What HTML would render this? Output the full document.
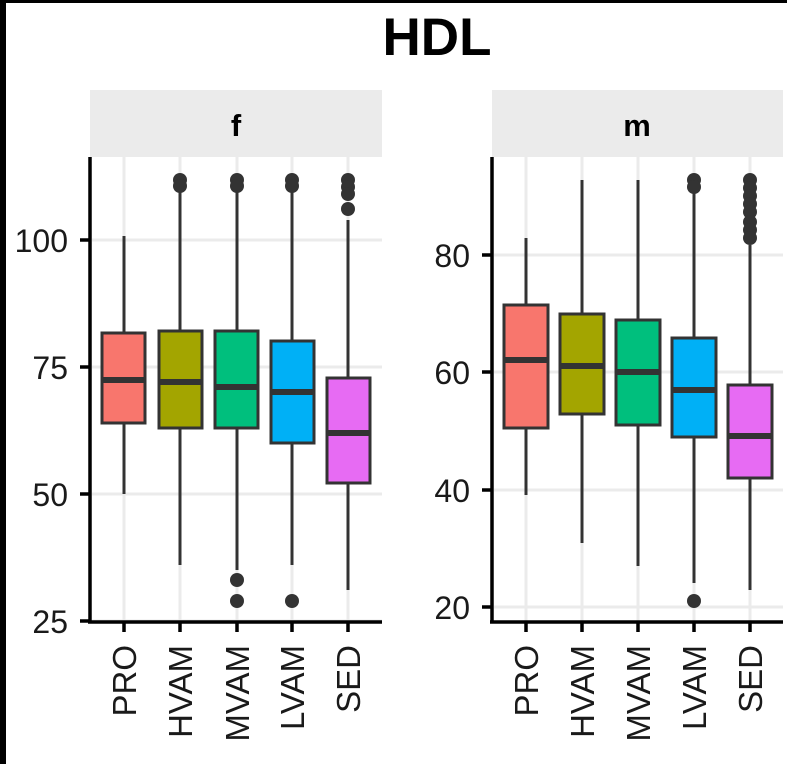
<!DOCTYPE html>
<html><head><meta charset="utf-8"><style>
html,body{margin:0;padding:0;background:#fff;}
svg{display:block;font-family:"Liberation Sans",Arial,sans-serif;}
</style></head><body>
<svg width="787" height="764" viewBox="0 0 787 764" xmlns="http://www.w3.org/2000/svg">
<rect width="787" height="764" fill="#fff"/>
<rect x="0" y="0" width="787" height="3" fill="#000"/>
<rect x="0" y="0" width="6" height="764" fill="#000"/>
<text x="437" y="55" font-size="53" font-weight="bold" text-anchor="middle">HDL</text>

<rect x="90" y="90" width="292" height="67" fill="#ebebeb"/>
<text x="236" y="136" font-size="31" font-weight="bold" text-anchor="middle">f</text>
<rect x="492" y="90" width="291" height="67" fill="#ebebeb"/>
<text x="637" y="136" font-size="31" font-weight="bold" text-anchor="middle">m</text>

<g stroke="#ebebeb" stroke-width="3">
<line x1="92" x2="382" y1="240" y2="240"/><line x1="92" x2="382" y1="367" y2="367"/>
<line x1="92" x2="382" y1="494" y2="494"/><line x1="92" x2="382" y1="621" y2="621"/>
<line x1="124" x2="124" y1="157" y2="622"/><line x1="180" x2="180" y1="157" y2="622"/>
<line x1="237" x2="237" y1="157" y2="622"/><line x1="292" x2="292" y1="157" y2="622"/>
<line x1="348" x2="348" y1="157" y2="622"/>
<line x1="494" x2="783" y1="255" y2="255"/><line x1="494" x2="783" y1="372" y2="372"/>
<line x1="494" x2="783" y1="490" y2="490"/><line x1="494" x2="783" y1="607" y2="607"/>
<line x1="526" x2="526" y1="157" y2="622"/><line x1="582" x2="582" y1="157" y2="622"/>
<line x1="638" x2="638" y1="157" y2="622"/><line x1="694" x2="694" y1="157" y2="622"/>
<line x1="750" x2="750" y1="157" y2="622"/>
</g>

<g stroke="#333" stroke-width="3">
<line x1="124" x2="124" y1="236" y2="494"/>
<line x1="180" x2="180" y1="182" y2="565"/>
<line x1="237" x2="237" y1="182" y2="570"/>
<line x1="292" x2="292" y1="182" y2="565"/>
<line x1="348" x2="348" y1="220" y2="590"/>
<rect x="102" y="333" width="43" height="90" fill="#f8766d"/>
<rect x="159" y="331" width="43" height="97" fill="#a3a500"/>
<rect x="215" y="331" width="43" height="97" fill="#00bf7d"/>
<rect x="271" y="341" width="43" height="102" fill="#00b0f6"/>
<rect x="327" y="378" width="43" height="105" fill="#e76bf3"/>
</g>
<g stroke="#333" stroke-width="6">
<line x1="102" x2="145" y1="380" y2="380"/>
<line x1="159" x2="202" y1="382" y2="382"/>
<line x1="215" x2="258" y1="387" y2="387"/>
<line x1="271" x2="314" y1="392" y2="392"/>
<line x1="327" x2="370" y1="433" y2="433"/>
</g>
<g fill="#333">
<circle cx="180" cy="180" r="7"/><circle cx="180" cy="186" r="7"/>
<circle cx="237" cy="180" r="7"/><circle cx="237" cy="186" r="7"/>
<circle cx="237" cy="580" r="7"/><circle cx="237" cy="601" r="7"/>
<circle cx="292" cy="180" r="7"/><circle cx="292" cy="186" r="7"/>
<circle cx="292" cy="601" r="7"/>
<circle cx="348" cy="180" r="7"/><circle cx="348" cy="187" r="7"/><circle cx="348" cy="194" r="7"/><circle cx="348" cy="209" r="7"/>
</g>
<g stroke="#000" stroke-width="3.5">
<line x1="90" x2="90" y1="157" y2="623"/>
<line x1="88" x2="382" y1="622" y2="622"/>
<line x1="80" x2="90" y1="240" y2="240"/><line x1="80" x2="90" y1="367" y2="367"/>
<line x1="80" x2="90" y1="494" y2="494"/><line x1="80" x2="90" y1="621" y2="621"/>
<line x1="124" x2="124" y1="622" y2="632"/><line x1="180" x2="180" y1="622" y2="632"/>
<line x1="237" x2="237" y1="622" y2="632"/><line x1="292" x2="292" y1="622" y2="632"/>
<line x1="348" x2="348" y1="622" y2="632"/>
</g>
<g font-size="32" fill="#1a1a1a" text-anchor="end">
<text x="68" y="252">100</text><text x="68" y="379">75</text>
<text x="68" y="506">50</text><text x="68" y="633">25</text>
</g>
<g font-size="33" fill="#1a1a1a" text-anchor="end">
<text transform="translate(136,645) rotate(-90)">PRO</text>
<text transform="translate(192,645) rotate(-90)">HVAM</text>
<text transform="translate(249,645) rotate(-90)">MVAM</text>
<text transform="translate(304,645) rotate(-90)">LVAM</text>
<text transform="translate(360,645) rotate(-90)">SED</text>
</g>

<g stroke="#333" stroke-width="3">
<line x1="526" x2="526" y1="238" y2="495"/>
<line x1="582" x2="582" y1="180" y2="543"/>
<line x1="638" x2="638" y1="180" y2="566"/>
<line x1="694" x2="694" y1="192" y2="583"/>
<line x1="750" x2="750" y1="245" y2="590"/>
<rect x="504" y="305" width="44" height="123" fill="#f8766d"/>
<rect x="560" y="314" width="44" height="100" fill="#a3a500"/>
<rect x="616" y="320" width="44" height="105" fill="#00bf7d"/>
<rect x="672" y="338" width="44" height="99" fill="#00b0f6"/>
<rect x="728" y="385" width="44" height="93" fill="#e76bf3"/>
</g>
<g stroke="#333" stroke-width="6">
<line x1="504" x2="548" y1="360" y2="360"/>
<line x1="560" x2="604" y1="366" y2="366"/>
<line x1="616" x2="660" y1="372" y2="372"/>
<line x1="672" x2="716" y1="390" y2="390"/>
<line x1="728" x2="772" y1="436" y2="436"/>
</g>
<g fill="#333">
<circle cx="694" cy="180" r="7"/><circle cx="694" cy="187" r="7"/>
<circle cx="694" cy="601" r="7"/>
<circle cx="750" cy="180" r="7"/><circle cx="750" cy="188" r="7"/><circle cx="750" cy="196" r="7"/>
<circle cx="750" cy="204" r="7"/><circle cx="750" cy="212" r="7"/><circle cx="750" cy="222" r="7"/>
<circle cx="750" cy="230" r="7"/><circle cx="750" cy="238" r="7"/>
</g>
<g stroke="#000" stroke-width="3.5">
<line x1="492" x2="492" y1="157" y2="623"/>
<line x1="490" x2="783" y1="622" y2="622"/>
<line x1="482" x2="492" y1="255" y2="255"/><line x1="482" x2="492" y1="372" y2="372"/>
<line x1="482" x2="492" y1="490" y2="490"/><line x1="482" x2="492" y1="607" y2="607"/>
<line x1="526" x2="526" y1="622" y2="632"/><line x1="582" x2="582" y1="622" y2="632"/>
<line x1="638" x2="638" y1="622" y2="632"/><line x1="694" x2="694" y1="622" y2="632"/>
<line x1="750" x2="750" y1="622" y2="632"/>
</g>
<g font-size="32" fill="#1a1a1a" text-anchor="end">
<text x="470" y="267">80</text><text x="470" y="384">60</text>
<text x="470" y="502">40</text><text x="470" y="619">20</text>
</g>
<g font-size="33" fill="#1a1a1a" text-anchor="end">
<text transform="translate(538,645) rotate(-90)">PRO</text>
<text transform="translate(594,645) rotate(-90)">HVAM</text>
<text transform="translate(650,645) rotate(-90)">MVAM</text>
<text transform="translate(706,645) rotate(-90)">LVAM</text>
<text transform="translate(762,645) rotate(-90)">SED</text>
</g>
</svg>
</body></html>
